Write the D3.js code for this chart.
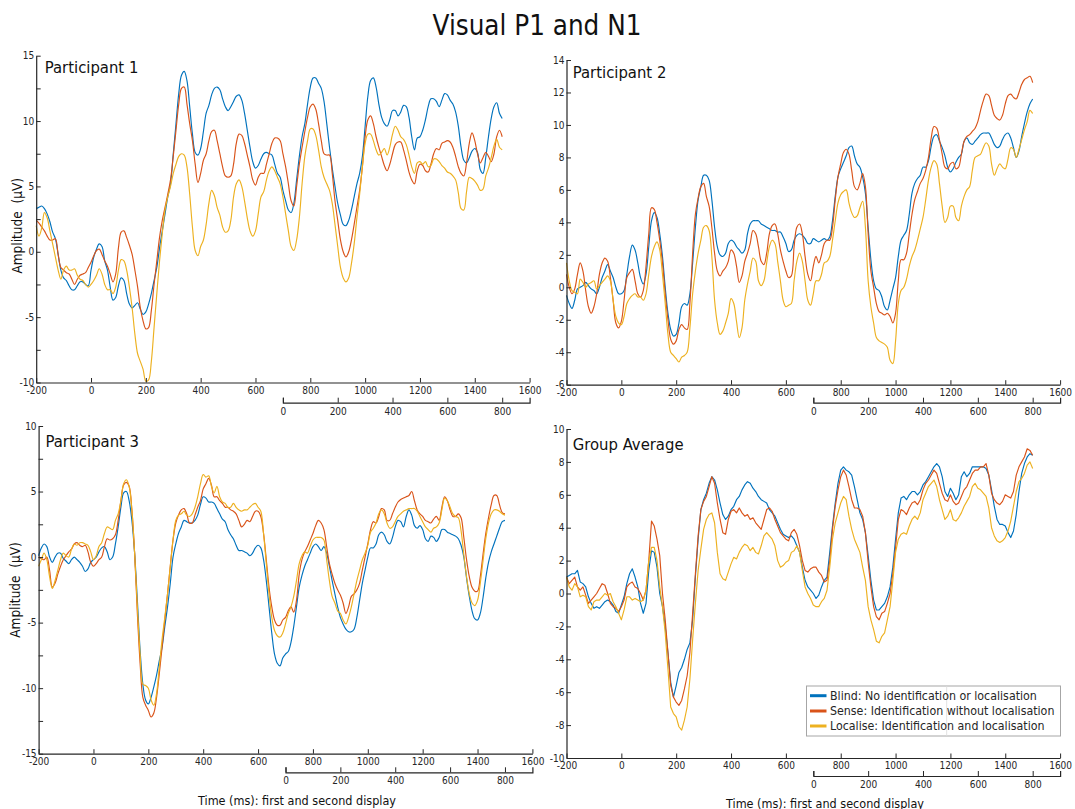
<!DOCTYPE html>
<html>
<head>
<meta charset="utf-8">
<script src="https://cdn.jsdelivr.net/npm/d3@7"></script>
<style>
  html, body { margin: 0; padding: 0; background: #fff; }
  svg { display: block; font-family: "DejaVu Sans Condensed", "DejaVu Sans", sans-serif; font-stretch: condensed; }
</style>
</head>
<body>
<svg id="chart" width="1075" height="809"></svg>
<script>
// ---------------- DATA ----------------
const chartTitle = "Visual P1 and N1";
const seriesNames = ["Blind: No identification or localisation",
                     "Sense: Identification without localisation",
                     "Localise: Identification and localisation"];
const seriesColors = ["#0072BD", "#D95319", "#EDB120"];
const xTickLabels = [-200, 0, 200, 400, 600, 800, 1000, 1200, 1400, 1600];
const secondTickLabels = [0, 200, 400, 600, 800];
const timeMs = d3.range(-200, 1501, 10);   // sample times (ms), -200 .. 1500

// Participant 1
const p1Blind = [3.3,3.4,3.5,3.3,2.9,2.3,1.5,1.0,-0.2,-1.4,
 -2.0,-2.2,-2.6,-2.9,-2.9,-2.6,-2.3,-2.3,-2.5,-2.6,
 -1.4,-0.4,0.2,0.6,0.4,-0.7,-1.4,-2.7,-3.7,-3.5,
 -2.6,-2.0,-2.2,-3.2,-4.0,-4.3,-4.1,-3.9,-4.4,-4.8,
 -4.6,-4.0,-3.2,-2.2,-1.2,0.3,1.6,2.9,4.2,5.2,
 7.5,9.8,12.1,13.5,13.8,13.1,11.1,9.0,7.6,7.4,
 7.9,9.2,10.6,11.2,12.0,12.5,12.6,12.4,11.7,11.1,
 10.8,11.1,11.5,11.9,12.0,11.6,10.6,9.3,8.0,6.9,
 6.4,6.6,7.1,7.5,7.6,7.5,7.4,6.7,6.0,5.7,
 4.7,3.9,3.2,3.0,3.7,5.5,7.3,8.8,9.8,11.3,
 12.6,13.3,13.3,12.9,12.5,11.5,9.8,8.0,6.4,5.0,
 3.7,2.8,2.1,2.0,2.4,3.2,4.2,5.2,6.0,7.3,
 9.6,11.9,13.1,13.3,12.6,11.3,10.3,9.8,9.6,10.1,
 10.8,10.8,10.4,10.7,11.2,11.1,10.3,8.8,7.8,8.7,
 8.8,9.3,10.1,11.1,11.7,11.7,11.5,11.1,11.6,12.1,
 12.0,11.6,11.3,10.7,9.6,8.0,7.0,6.8,7.2,7.7,
 7.9,7.6,6.3,6.0,7.2,8.8,10.2,11.1,11.4,10.6,
 10.2];
const p1Sense = [2.4,2.2,1.9,1.6,1.2,0.9,0.9,1.0,-0.2,-1.2,
 -1.4,-1.6,-1.7,-2.1,-2.5,-2.1,-1.8,-1.7,-1.6,-1.2,
 -0.8,-0.3,0.1,0.2,-0.2,-0.7,-1.1,-1.7,-2.3,-1.7,
 0.3,1.5,1.6,1.1,0.5,-0.2,-1.4,-2.7,-4.3,-5.3,
 -5.9,-5.8,-4.5,-2.5,-0.7,1.1,2.4,3.4,4.4,5.5,
 7.3,9.3,11.3,12.5,12.6,11.3,9.8,8.5,6.7,5.3,
 6.0,7.0,7.5,8.5,9.2,9.3,8.5,7.5,6.5,5.8,
 5.7,5.8,6.7,8.3,9.0,8.9,8.3,7.4,6.5,5.5,
 5.1,5.7,6.0,6.0,6.7,7.5,8.3,8.7,8.7,8.5,
 7.5,6.5,5.2,3.9,3.5,5.0,6.7,8.0,9.2,10.3,
 11.1,11.3,10.9,9.8,8.5,7.5,7.4,7.4,6.0,3.9,
 2.4,0.9,0.0,-0.4,0.0,0.9,2.1,3.4,4.7,6.5,
 8.8,10.1,10.4,9.8,8.8,8.0,7.3,6.6,6.2,6.7,
 7.5,8.2,8.4,8.4,7.8,7.0,6.1,5.5,5.2,6.2,
 6.7,6.6,6.2,6.1,6.7,7.5,7.9,7.8,8.3,8.4,
 8.5,8.4,8.0,7.3,6.5,6.0,5.8,6.8,8.3,9.1,
 8.5,7.5,6.8,7.2,7.6,7.3,6.9,7.5,8.8,9.3,
 8.8];
const p1Localise = [2.0,1.2,1.8,3.0,2.6,1.6,0.6,-0.4,-1.4,-2.1,
 -1.4,-1.1,-1.4,-1.4,-1.3,-1.8,-2.1,-2.2,-2.5,-2.7,
 -2.5,-2.2,-1.8,-1.3,-1.7,-2.5,-2.9,-2.9,-3.2,-2.7,
 -1.4,-0.6,-0.7,-1.4,-2.7,-4.3,-6.3,-7.8,-8.4,-9.0,
 -9.9,-9.8,-8.4,-5.8,-3.2,-0.7,1.4,3.2,4.2,5.0,
 6.0,6.7,7.3,7.5,7.4,6.5,4.4,1.9,0.1,-0.3,
 0.4,0.9,2.1,3.7,4.7,4.3,3.4,2.8,1.9,1.5,
 1.6,2.4,4.2,5.2,5.5,5.0,3.9,2.6,1.6,1.2,
 1.6,2.9,4.2,4.6,5.5,6.2,6.5,6.2,5.7,5.2,
 4.2,2.9,1.6,0.4,0.1,0.9,2.6,5.2,7.3,8.5,
 9.4,9.4,8.9,7.8,6.5,5.7,5.2,4.7,3.7,2.1,
 0.4,-1.2,-2.0,-2.3,-2.0,-0.9,0.6,2.6,4.4,6.5,
 8.3,9.0,9.0,8.5,7.8,7.4,7.6,7.9,7.4,8.0,
 9.0,9.6,9.3,8.8,8.6,8.2,7.4,6.5,6.0,6.8,
 6.9,6.7,6.9,6.5,6.6,7.1,7.1,6.9,6.6,6.4,
 6.1,6.0,5.8,5.5,4.5,3.3,3.2,4.6,5.7,5.6,
 5.4,5.1,4.7,4.8,5.8,6.4,7.2,8.1,8.6,8.0,
 7.8];

// Participant 2
const p2Blind = [-0.5,-1.0,-1.3,-0.8,-0.1,0.0,0.1,0.3,0.1,-0.1,
 -0.2,-0.4,0.0,0.6,1.0,1.4,1.0,0.6,0.0,-0.4,
 -0.4,-0.2,0.8,1.9,2.6,2.3,1.5,0.6,0.2,0.8,
 2.5,4.1,4.6,4.3,3.3,1.9,0.0,-1.6,-2.6,-3.0,
 -2.9,-2.2,-1.2,-1.0,-1.1,-0.4,1.5,3.7,5.4,6.2,
 6.9,6.9,6.6,5.4,3.7,2.5,2.0,1.9,2.1,2.7,
 2.9,2.8,2.5,2.3,2.1,2.3,3.3,3.9,4.1,4.1,
 4.1,3.9,3.8,3.7,3.6,3.5,3.5,3.4,3.4,3.1,
 2.7,2.2,2.3,2.9,3.2,3.3,3.2,3.0,2.7,2.7,
 3.0,2.9,2.8,2.9,3.0,2.9,3.1,4.1,5.6,6.8,
 7.3,7.7,8.1,8.6,8.7,8.1,7.6,7.4,6.8,5.8,
 3.7,1.7,0.4,-0.1,-0.2,-0.6,-1.2,-1.4,-0.8,-0.1,
 0.6,1.9,2.9,3.2,3.5,4.5,5.8,6.4,6.7,6.9,
 7.4,7.4,7.8,8.7,9.3,9.4,9.0,8.6,8.1,7.4,
 7.1,7.3,7.7,8.0,8.2,9.0,9.2,8.9,8.8,9.0,
 9.2,9.4,9.5,9.5,9.5,9.2,8.8,8.6,8.7,9.1,
 9.4,9.5,9.2,8.6,8.0,8.4,9.3,10.1,10.8,11.3,
 11.6];
const p2Sense = [0.8,0.0,-0.4,-0.1,0.8,1.5,1.0,-0.2,-1.2,-1.6,
 -1.2,-0.4,0.8,1.5,1.8,1.6,0.6,-0.8,-2.2,-2.5,
 -2.1,-0.8,0.6,0.9,1.1,0.4,-0.4,-0.6,-0.2,1.3,
 3.3,4.9,4.8,4.0,2.9,1.5,-0.4,-2.0,-3.2,-3.5,
 -3.3,-2.6,-2.3,-2.5,-2.6,-1.0,2.1,4.5,5.5,6.2,
 6.4,5.6,5.0,3.7,2.1,1.0,0.7,1.0,1.2,1.6,
 2.3,2.1,1.3,0.3,0.7,1.6,2.1,2.7,3.5,3.3,
 2.5,1.6,1.4,2.1,3.3,3.8,3.9,3.3,2.3,1.6,
 1.0,0.6,0.7,2.5,3.7,3.9,3.3,1.9,0.8,0.4,
 1.3,1.9,1.5,2.0,2.7,2.9,2.9,3.7,5.4,6.8,
 7.6,8.3,8.5,8.2,7.2,6.2,6.0,6.4,7.0,6.2,
 3.3,1.0,0.0,-1.0,-1.5,-1.6,-1.7,-1.6,-1.8,-2.2,
 -1.6,0.4,1.7,1.7,2.1,3.3,4.5,5.4,5.9,6.4,
 6.7,7.2,8.0,9.2,9.9,9.8,9.1,8.2,7.4,7.3,
 7.6,7.7,7.3,7.4,8.2,9.0,9.3,9.4,9.6,9.8,
 10.2,10.9,11.5,11.9,11.8,11.2,10.6,10.4,10.3,10.6,
 11.3,11.8,11.9,11.7,11.6,12.0,12.5,12.8,12.9,13.0,
 12.6];
const p2Localise = [1.5,0.4,-0.2,-0.3,-0.4,0.5,0.3,0.0,0.2,0.3,
 0.4,-0.1,0.1,0.3,0.5,0.7,0.4,-0.8,-1.8,-2.2,
 -2.3,-1.8,-1.0,-0.7,-0.5,-0.4,-0.6,-0.6,-0.8,-0.4,
 0.8,1.9,2.5,2.8,2.3,0.8,-1.0,-2.9,-4.0,-4.2,
 -4.4,-4.6,-4.3,-4.2,-4.0,-2.5,-0.4,1.0,2.1,2.9,
 3.7,3.8,3.5,1.9,-0.8,-2.2,-2.9,-2.7,-2.2,-1.6,
 -0.7,-1.0,-2.1,-3.1,-2.5,-0.8,0.2,1.0,1.8,1.6,
 0.4,0.1,0.4,1.5,2.5,2.9,2.7,1.6,0.4,-0.8,
 -1.2,-1.1,-1.0,0.4,1.6,2.1,1.6,0.4,-0.8,-1.1,
 -0.4,0.4,0.4,0.8,1.5,1.6,1.9,2.9,4.1,5.2,
 5.7,5.9,6.0,5.2,4.6,4.3,4.4,4.9,5.3,3.7,
 0.4,-1.2,-2.2,-3.1,-3.3,-3.4,-3.5,-3.7,-4.5,-4.7,
 -3.3,-1.0,-0.2,0.0,0.5,1.3,1.9,2.3,2.9,3.6,
 4.3,5.4,6.6,7.4,7.8,7.6,6.4,5.0,4.0,4.3,
 5.0,5.0,4.3,4.1,5.0,5.6,6.0,6.2,7.2,8.0,
 8.1,8.2,8.6,8.9,8.7,7.6,6.9,7.3,7.6,7.4,
 7.3,7.9,8.6,8.5,8.0,8.5,9.1,9.7,10.2,10.9,
 10.7];

// Participant 3
const p3Blind = [0.1,0.7,1.0,0.8,0.0,-0.4,0.0,0.3,0.3,-0.1,
 -0.3,-0.5,-0.2,0.0,-0.2,-0.4,-0.7,-1.1,-0.9,-0.4,
 -0.2,0.0,0.4,0.7,0.8,0.4,-0.2,0.0,1.0,2.3,
 3.8,4.9,5.0,4.3,2.8,0.3,-3.3,-7.1,-9.7,-10.9,
 -11.2,-10.7,-9.9,-9.0,-7.9,-6.9,-5.3,-3.8,-2.0,0.0,
 1.0,1.8,2.3,2.8,2.7,2.6,2.6,2.8,3.2,4.0,
 4.6,4.5,4.2,4.2,4.1,3.7,3.3,2.9,2.7,2.1,
 1.7,1.4,0.9,0.5,0.5,0.4,0.3,0.1,0.3,0.7,
 0.9,0.7,-0.2,-1.8,-3.8,-5.8,-7.4,-8.1,-8.3,-7.7,
 -7.4,-7.2,-6.5,-5.3,-3.8,-2.3,-1.4,-0.7,-0.2,0.3,
 0.8,1.0,0.8,0.5,0.8,0.3,-0.7,-1.8,-2.8,-3.8,
 -4.6,-5.1,-5.5,-5.7,-5.7,-5.5,-4.6,-3.3,-2.0,-1.0,
 0.0,0.7,0.7,1.0,1.7,1.9,1.7,1.2,1.0,1.5,
 2.3,2.8,2.7,2.3,3.1,3.6,3.2,2.4,2.2,2.4,
 2.1,1.4,1.2,1.6,1.5,1.2,1.5,2.1,2.1,1.9,
 1.8,1.7,1.6,1.4,0.9,0.0,-1.6,-3.0,-4.1,-4.7,
 -4.8,-4.3,-3.1,-1.6,-0.4,0.4,1.0,1.6,2.2,2.7,
 2.8];
const p3Sense = [0.0,-0.1,-0.2,0.0,-1.0,-2.3,-2.0,-1.3,-0.7,-0.2,
 0.1,0.4,0.6,1.0,1.1,0.9,0.8,0.9,0.4,-0.4,
 -0.7,-0.5,-0.2,0.0,0.8,1.4,1.3,1.4,1.7,2.8,
 4.3,5.5,5.7,5.4,3.6,0.3,-4.3,-8.1,-10.7,-11.3,
 -11.7,-12.2,-11.9,-10.7,-8.9,-6.9,-4.8,-2.8,-0.7,1.3,
 2.6,3.2,3.6,3.7,3.3,2.6,2.6,3.2,3.8,4.3,
 5.2,5.6,6.0,5.5,4.6,4.6,4.3,4.1,3.8,3.8,
 3.6,3.5,3.3,2.8,2.3,2.5,2.8,2.7,3.1,3.5,
 3.5,3.1,1.8,-0.2,-2.3,-3.8,-4.8,-5.2,-5.2,-4.8,
 -4.6,-4.1,-3.8,-4.2,-3.3,-1.3,-0.2,0.4,0.8,1.3,
 1.8,2.4,2.8,2.6,2.1,0.8,-0.5,-1.3,-2.0,-2.5,
 -2.9,-3.5,-4.3,-3.8,-3.0,-2.8,-2.5,-2.0,-1.0,0.0,
 1.0,2.1,2.7,2.6,3.1,3.7,3.6,2.8,2.8,3.3,
 3.8,4.2,4.4,4.5,4.6,4.7,5.0,4.3,3.6,3.3,
 3.1,2.8,2.7,2.6,2.9,3.1,2.8,3.8,4.6,4.3,
 3.6,3.1,3.1,3.3,3.0,1.5,-0.2,-1.5,-2.3,-2.6,
 -2.6,-1.5,0.2,1.8,3.0,4.0,4.7,4.7,4.0,3.4,
 3.3];
const p3Localise = [-0.7,-0.2,0.3,-0.2,-1.5,-2.4,-1.8,-1.0,-0.2,0.3,
 0.1,0.0,0.6,1.0,0.9,1.1,1.1,1.0,0.9,0.4,
 -0.2,0.1,0.8,1.1,1.8,2.3,2.2,2.1,2.8,3.3,
 4.3,5.6,5.9,5.4,3.6,0.3,-3.8,-7.4,-9.7,-9.8,
 -10.0,-10.9,-11.3,-10.4,-8.4,-6.3,-4.6,-2.8,-0.7,1.3,
 2.8,3.2,3.3,3.5,3.2,3.1,3.3,3.8,4.6,5.6,
 6.3,6.1,6.2,5.4,4.9,5.4,4.6,4.2,4.1,3.8,
 3.8,4.1,3.8,3.6,3.5,3.6,3.6,3.8,4.0,4.1,
 3.8,3.5,1.8,-0.5,-2.8,-4.6,-5.6,-6.0,-6.1,-5.8,
 -5.1,-4.3,-3.8,-3.0,-1.8,-0.5,0.1,0.4,0.3,0.8,
 1.3,1.5,1.5,1.5,1.3,-0.2,-1.8,-3.0,-3.5,-4.1,
 -4.3,-4.8,-5.1,-4.6,-3.8,-2.8,-1.8,-1.0,-0.2,0.3,
 0.9,1.9,2.2,2.6,3.3,3.6,3.3,2.6,2.2,2.3,
 2.7,3.1,3.3,3.5,3.6,3.7,3.7,3.7,3.5,3.1,
 2.7,2.3,2.1,1.9,2.2,2.3,2.6,3.6,4.5,4.3,
 3.8,3.3,3.1,3.0,2.0,0.2,-1.5,-2.8,-3.5,-3.7,
 -3.3,-2.0,-0.3,1.4,2.6,3.3,3.6,3.6,3.5,3.3,
 3.2];

// Group average
const gaBlind = [1.0,1.1,1.2,1.2,1.4,0.7,0.6,0.4,-0.2,-0.6,
 -0.9,-0.8,-0.9,-0.7,-0.5,-0.4,-0.5,-0.7,-1.1,-1.2,
 -0.7,-0.2,0.6,1.2,1.5,1.0,0.4,-0.6,-1.2,-0.6,
 1.4,2.6,2.5,1.6,0.0,-0.8,-2.0,-3.6,-5.4,-6.3,
 -5.6,-4.8,-4.5,-4.0,-3.4,-3.0,-1.6,1.0,3.3,5.1,
 5.7,6.1,6.7,7.1,6.9,6.3,5.5,4.8,4.5,4.7,
 5.1,5.3,5.7,5.9,6.3,6.6,6.8,6.7,6.4,6.2,
 5.9,5.7,5.6,5.5,5.1,4.9,4.7,4.3,3.9,3.6,
 3.5,3.4,3.5,3.3,2.9,2.5,1.6,0.8,0.4,0.2,
 0.0,-0.3,-0.1,0.4,0.8,1.0,2.5,4.1,5.5,6.7,
 7.5,7.7,7.5,7.4,7.2,6.5,5.7,4.9,4.5,3.7,
 2.3,0.8,-0.4,-1.0,-1.0,-0.8,-0.6,-0.2,0.4,1.6,
 3.3,4.9,5.8,5.9,5.7,6.0,6.2,6.2,6.0,6.2,
 6.6,6.8,7.1,7.4,7.7,7.9,7.7,7.1,6.2,5.9,
 6.4,6.1,5.7,6.0,7.1,7.4,7.1,7.3,7.7,7.7,
 7.7,7.7,7.7,7.6,7.2,6.3,5.3,4.5,4.2,4.2,
 4.1,3.7,3.4,3.8,4.8,6.2,7.3,7.9,8.3,8.5,
 8.4];
const gaSense = [1.0,0.6,0.8,1.0,0.4,0.2,0.4,-0.1,-0.6,-0.4,
 -0.2,0.0,0.3,0.6,0.5,0.0,-0.6,-0.8,-0.9,-1.1,
 -0.8,-0.4,0.4,0.6,0.7,0.4,0.3,0.0,-0.4,0.2,
 2.0,4.4,4.1,3.3,2.3,0.0,-1.6,-3.6,-5.6,-6.3,
 -6.6,-6.8,-6.5,-5.8,-5.0,-3.6,-1.2,1.2,3.5,5.1,
 5.6,5.9,6.5,7.1,6.7,5.5,4.5,3.7,3.6,4.5,
 5.0,5.1,4.9,5.2,4.9,4.7,4.8,4.5,4.6,4.3,
 4.1,3.9,4.5,5.1,5.2,5.0,4.5,4.1,3.7,3.5,
 3.3,3.2,3.7,3.9,3.6,2.9,2.0,1.4,1.3,1.5,
 1.6,1.6,1.3,1.1,0.7,0.8,2.0,3.9,5.3,6.3,
 7.1,7.5,7.2,6.5,5.7,5.2,5.2,5.1,4.7,3.7,
 1.9,0.4,-0.8,-1.4,-1.6,-1.2,-1.1,-0.6,0.0,1.2,
 2.8,4.5,5.1,5.0,4.8,5.2,5.5,5.6,5.4,5.7,
 6.3,6.7,6.9,7.2,7.5,7.3,6.7,6.1,5.7,5.6,
 6.0,5.6,5.4,5.5,5.9,6.3,6.5,6.9,7.3,7.5,
 7.5,7.7,7.7,7.9,7.2,6.1,5.7,5.5,5.4,5.6,
 6.0,5.9,5.8,6.2,7.2,7.7,8.0,8.3,8.8,8.7,
 8.4];
const gaLocalise = [1.0,0.4,0.2,0.6,0.4,-0.2,-0.1,-0.2,-0.8,-1.0,
 -0.5,-0.4,-0.4,-0.2,0.0,-0.1,0.0,-0.5,-0.8,-1.2,
 -1.6,-1.0,-0.2,-0.2,-0.4,-0.3,-0.4,-0.5,-0.4,0.2,
 2.0,2.8,2.8,2.0,0.4,-0.8,-2.4,-4.6,-6.9,-7.3,
 -7.5,-8.1,-8.3,-7.7,-6.9,-5.2,-2.8,-0.6,1.4,2.7,
 3.9,4.5,4.8,4.9,4.3,2.5,1.2,0.9,0.8,1.3,
 1.8,2.2,2.1,2.5,2.8,3.0,2.9,2.6,2.8,2.5,
 2.4,2.9,3.5,3.7,3.5,3.3,2.9,2.0,1.6,1.7,
 1.9,2.0,2.5,2.6,2.9,2.5,1.4,0.4,0.0,-0.3,
 -0.7,-0.8,-0.8,-0.5,-0.3,0.2,1.6,3.3,4.3,4.9,
 5.5,5.9,5.7,4.7,3.9,3.3,2.9,2.5,1.6,0.8,
 -0.8,-1.6,-2.2,-2.9,-3.0,-2.6,-2.4,-1.6,-0.8,0.8,
 2.5,3.3,3.6,3.7,3.6,4.1,4.5,4.7,4.5,4.9,
 5.7,6.1,6.5,6.7,6.9,6.5,5.7,5.1,4.5,4.7,
 5.1,4.5,4.4,4.6,4.9,5.3,5.6,5.9,6.5,6.7,
 6.4,6.3,6.1,5.9,5.2,4.0,3.5,3.2,3.1,3.2,
 3.4,3.8,4.4,5.3,6.2,6.8,7.0,7.3,7.8,8.0,
 7.6];

// ---------------- LAYOUT ----------------
const FONT = '"DejaVu Sans Condensed", "DejaVu Sans", sans-serif';
const AX = "#262626";

const panels = [
  { title: "Participant 1", series: [p1Blind, p1Sense, p1Localise],
    x0: 36.2, x1: 529.6, yTop: 55.7, yBot: 382.5, yDom: [-10, 15], yStep: 2.5, yLabelEvery: 5,
    titleX: 44.8, titleY: 73.3, secY: 402.7, yLabel: [16.7, 225.8], curve: "smooth" },
  { title: "Participant 2", series: [p2Blind, p2Sense, p2Localise],
    x0: 566.5, x1: 1060.1, yTop: 60, yBot: 384.7, yDom: [-6, 14], yStep: 2, yLabelEvery: 2,
    titleX: 572.8, titleY: 78.3, secY: 402.7, curve: "smooth" },
  { title: "Participant 3", series: [p3Blind, p3Sense, p3Localise],
    x0: 38.6, x1: 532.4, yTop: 426, yBot: 753.7, yDom: [-15, 10], yStep: 2.5, yLabelEvery: 5,
    titleX: 45.5, titleY: 446.7, secY: 772.3, yLabel: [15.2, 590], xLabel: [297, 805], curve: "smooth" },
  { title: "Group Average", series: [gaBlind, gaSense, gaLocalise],
    x0: 566.5, x1: 1060.1, yTop: 429, yBot: 758, yDom: [-10, 10], yStep: 2, yLabelEvery: 2,
    titleX: 572.8, titleY: 450, secY: 776, xLabel: [825, 807.5], legend: true, curve: "linear" }
];

const svg = d3.select("#chart");

svg.append("text")
  .attr("x", 537).attr("y", 35)
  .attr("text-anchor", "middle")
  .style("font-family", FONT).style("font-size", "27.5px").attr("fill", "#111")
  .text(chartTitle);

function styleAxis(g) {
  g.selectAll(".domain").attr("stroke", AX).attr("stroke-width", 1.2);
  g.selectAll(".tick line").attr("stroke", AX).attr("stroke-width", 1);
  g.selectAll(".tick text").attr("fill", AX).style("font-family", FONT).style("font-size", "10px");
}

panels.forEach(p => {
  const g = svg.append("g");
  const x = d3.scaleLinear().domain([-200, 1600]).range([p.x0, p.x1]);
  const y = d3.scaleLinear().domain(p.yDom).range([p.yBot, p.yTop]);
  const sec = d3.scaleLinear().domain([0, 900]).range([x(700), x(1600)]);

  // lines
  const line = d3.line()
    .x((d, i) => x(timeMs[i]))
    .y(d => y(d))
    .curve(p.curve === "smooth" ? d3.curveCatmullRom.alpha(0.5) : d3.curveLinear);
  p.series.forEach((s, k) => {
    g.append("path")
      .attr("d", line(s))
      .attr("fill", "none")
      .attr("stroke", seriesColors[k])
      .attr("stroke-width", 1.15)
      .attr("stroke-linejoin", "round");
  });

  // y axis
  const yTicks = d3.range(p.yDom[0], p.yDom[1] + 0.001, p.yStep);
  const yAxis = d3.axisLeft(y).tickValues(yTicks)
    .tickSizeInner(-4.5).tickSizeOuter(0).tickPadding(2)
    .tickFormat(v => (Math.abs(v % p.yLabelEvery) < 1e-9 ? String(v) : ""));
  g.append("g").attr("transform", `translate(${p.x0},0)`).call(yAxis).call(styleAxis);

  // x axis (main)
  const xAxis = d3.axisBottom(x).tickValues(xTickLabels)
    .tickSizeInner(-4.5).tickSizeOuter(0).tickPadding(4).tickFormat(v => String(v));
  g.append("g").attr("transform", `translate(0,${p.yBot})`).call(xAxis).call(styleAxis);

  // secondary time axis (second display)
  const sAxis = d3.axisBottom(sec).tickValues(secondTickLabels)
    .tickSizeInner(-5).tickSizeOuter(-5).tickPadding(5).tickFormat(v => String(v));
  g.append("g").attr("transform", `translate(0,${p.secY})`).call(sAxis).call(styleAxis);

  // panel title
  g.append("text").attr("x", p.titleX).attr("y", p.titleY)
    .style("font-family", FONT).style("font-size", "16.5px").attr("fill", "#111")
    .text(p.title);

  if (p.yLabel) {
    g.append("text")
      .attr("transform", `translate(${p.yLabel[0]},${p.yLabel[1]}) rotate(-90)`)
      .attr("text-anchor", "middle").attr("dominant-baseline", "central")
      .style("font-family", FONT).style("font-size", "13.5px").style("white-space", "pre")
      .attr("fill", "#111")
      .text("Amplitude  (\u03BCV)");
  }
  if (p.xLabel) {
    g.append("text").attr("x", p.xLabel[0]).attr("y", p.xLabel[1])
      .attr("text-anchor", "middle")
      .style("font-family", FONT).style("font-size", "12.5px").attr("fill", "#111")
      .text("Time (ms): first and second display");
  }
  if (p.legend) {
    const lg = g.append("g");
    lg.append("rect").attr("x", 806.5).attr("y", 686).attr("width", 254).attr("height", 50)
      .attr("fill", "#fff").attr("stroke", "#a6a6a6").attr("stroke-width", 1);
    lg.append("line").attr("x1", 946.7).attr("x2", 946.7).attr("y1", 686.5).attr("y2", 735.5)
      .attr("stroke", "#e2e2e2").attr("stroke-width", 1);
    const rowY = [695.7, 711, 726];
    seriesNames.forEach((name, k) => {
      lg.append("line").attr("x1", 810).attr("x2", 826.5).attr("y1", rowY[k]).attr("y2", rowY[k])
        .attr("stroke", seriesColors[k]).attr("stroke-width", 3);
      lg.append("text").attr("x", 830).attr("y", rowY[k])
        .attr("dominant-baseline", "central")
        .style("font-family", FONT).style("font-size", "12.3px").attr("fill", AX)
        .text(name);
    });
  }
});
</script>
</body>
</html>
